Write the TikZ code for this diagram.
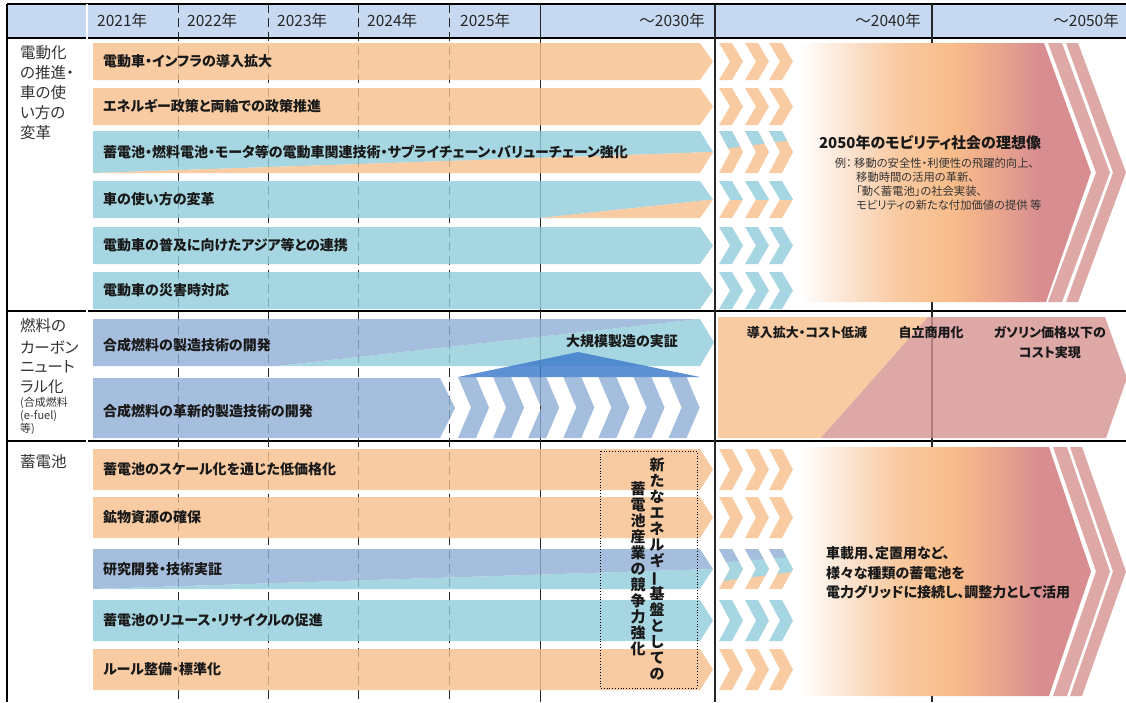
\documentclass[tikz,border=0pt]{standalone}
\usepackage{fontspec}
\usepackage{graphicx}
\setmainfont{Noto Sans CJK JP}[RawFeature=+palt]
% opaque colours (chevrons)
\definecolor{cO}{RGB}{249,203,162}
\definecolor{cT}{RGB}{166,214,225}
\definecolor{cS}{RGB}{166,190,222}
\definecolor{cR}{RGB}{221,168,166}
% base colours for 80% fills (give the same look on white)
\definecolor{bO}{RGB}{247,190,139}
\definecolor{bT}{RGB}{144,204,217}
\definecolor{bS}{RGB}{144,174,214}
\definecolor{bR}{RGB}{212,146,144}
\definecolor{cH}{RGB}{198,217,241}
\definecolor{cTri}{RGB}{66,126,204}
\definecolor{gA}{RGB}{251,226,206}
\definecolor{gB}{RGB}{249,201,160}
\definecolor{gC}{RGB}{248,189,138}
\definecolor{gD}{RGB}{236,168,140}
\definecolor{gE}{RGB}{216,142,144}
\pgfdeclarehorizontalshading{visiongrad}{100bp}{color(0bp)=(white); color(25bp)=(white); color(33.5bp)=(gA); color(42bp)=(gB); color(51bp)=(gC); color(58bp)=(gD); color(66bp)=(gE); color(100bp)=(gE)}
% bar: left x, body right x, top, bottom
\newcommand\barpath[4]{(#1,#3) -- (#2,#3) -- ({#2+13},{(#3+#4)/2}) -- (#2,#4) -- (#1,#4) -- cycle}
% chevron: x0, top, bottom
\newcommand\chevpath[3]{(#1,#2) -- ({#1+13},#2) -- ({#1+24},{(#2+#3)/2}) -- ({#1+13},#3) -- (#1,#3) -- ({#1+11},{(#2+#3)/2}) -- cycle}
\newcommand\threechev[3]{\foreach \cx in {719,745,769} {\fill[#3] \chevpath{\cx}{#1}{#2};}}
\begin{document}
\begin{tikzpicture}[x=1pt,y=-1pt,
  lbl/.style={font=\bfseries\fontsize{14}{16}\selectfont, anchor=west, inner sep=0pt, text=black!90},
  sidetxt/.style={font=\fontsize{15.5}{18}\selectfont, anchor=west, inner sep=0pt, text=black!80},
  sidesmall/.style={font=\fontsize{11}{13}\selectfont, anchor=west, inner sep=0pt, text=black!80},
  yr/.style={font=\fontsize{15.5}{17}\selectfont, inner sep=0pt, text=black!85},
  boxtxt/.style={font=\bfseries\fontsize{13}{15}\selectfont, inner sep=0pt, text=black!90},
  extxt/.style={font=\fontsize{11.3}{13}\selectfont, inner sep=0pt, text=black!80, anchor=west},
  vt/.style={font=\bfseries\fontsize{15}{16}\selectfont, align=center, inner sep=0pt, text=black!90},
  gline/.style={line width=0.9pt, black!85},
  dline/.style={gline, dash pattern=on 9pt off 5pt},
  bfill/.style={fill opacity=0.8},
]
\useasboundingbox (0,0) rectangle (1126,702);
% header
\fill[cH] (7,4) rectangle (1126,38);
% grid
\draw[line width=1.3pt] (7,4) -- (1126,4);
\draw[line width=1.3pt] (7,38) -- (1126,38);
\draw[line width=1.1pt] (7,311) -- (1126,311);
\draw[line width=1.1pt] (7,441) -- (1126,441);
\draw[line width=1.3pt] (7,4) -- (7,702);
\draw[double, double distance=1.4pt, line width=0.7pt] (87,4) -- (87,702);
\foreach \x in {178,268,358,449} \draw[dline] (\x,4) -- (\x,702);
\draw[gline] (540,4) -- (540,702);
\draw[gline, line width=1.1pt] (715,4) -- (715,702);
\draw[gline, line width=1.1pt] (932,4) -- (932,702);
% header labels
\node[yr, anchor=west] (y21) at (97,21) {2021年};
\node[yr, anchor=west] (y22) at (187,21) {2022年};
\node[yr, anchor=west] (y23) at (277,21) {2023年};
\node[yr, anchor=west] (y24) at (367,21) {2024年};
\node[yr, anchor=west] (y25) at (460,21) {2025年};
\node[yr, anchor=east] (y30) at (705,21) {～2030年};
\node[yr, anchor=east] (y40) at (921,21) {～2040年};
\node[yr, anchor=east] (y50) at (1119,21) {～2050年};
% left column
\node[sidetxt] (s1a) at (20,53) {電動化};
\node[sidetxt] (s1b) at (20,73) {の推進・};
\node[sidetxt] (s1c) at (20,93) {車の使};
\node[sidetxt] (s1d) at (20,113) {い方の};
\node[sidetxt] (s1e) at (20,133) {変革};
\node[sidetxt] (s2a) at (20,326) {燃料の};
\node[sidetxt] (s2b) at (20,347) {カーボン};
\node[sidetxt] (s2c) at (20,367) {ニュート};
\node[sidetxt] (s2d) at (20,387) {ラル化};
\node[sidesmall] (s2e) at (20,403) {(合成燃料};
\node[sidesmall] (s2f) at (20,416) {(e-fuel)};
\node[sidesmall] (s2g) at (20,429) {等)};
\node[sidetxt] (s3a) at (20,462) {蓄電池};
% ---------- section 1 bars ----------
\fill[bO,bfill] \barpath{93}{700}{43}{80};
\fill[bO,bfill] \barpath{93}{700}{88}{125};
\fill[bT,bfill] (93,131) -- (700,131) -- (713,152) -- (93,173) -- cycle;
\fill[bO,bfill] (93,173) -- (713,152) -- (700,173) -- cycle;
\fill[bT,bfill] (93,181) -- (700,181) -- (713,199.5) -- (540,218) -- (93,218) -- cycle;
\fill[bO,bfill] (540,218) -- (713,199.5) -- (700,218) -- cycle;
\fill[bT,bfill] \barpath{93}{700}{227}{264};
\fill[bT,bfill] \barpath{93}{700}{272}{309};
% section 1 chevrons
\threechev{43}{80}{cO}
\threechev{88}{125}{cO}
\foreach \cx in {719,745,769}{
  \begin{scope}
    \clip \chevpath{\cx}{131}{173};
    \fill[cO] (715,131) rectangle (800,173);
    \fill[cT] (715,131) -- (715,150) -- (800,139) -- (800,131) -- cycle;
  \end{scope}
  \begin{scope}
    \clip \chevpath{\cx}{181}{218};
    \fill[cO] (715,199.5) rectangle (800,218);
    \fill[cT] (715,181) rectangle (800,199.5);
  \end{scope}
}
\threechev{227}{264}{cT}
\threechev{272}{309}{cT}
% ---------- section 2 ----------
\fill[bS,bfill] (93,319) -- (700,319) -- (277,366) -- (93,366) -- cycle;
\fill[bT,bfill] (277,366) -- (700,319) -- (714,342.5) -- (700,366) -- cycle;
\fill[bS,bfill] (93,378) -- (440,378) -- (455,408) -- (440,438) -- (93,438) -- cycle;
\foreach \i in {0,...,6}{
  \pgfmathsetmacro\xo{458+35.1*\i}
  \fill[bS,bfill] (\xo,377) -- ({\xo+18},377) -- ({\xo+31},407.5) -- ({\xo+18},438) -- (\xo,438) -- ({\xo+13},407.5) -- cycle;
}
\fill[cTri, fill opacity=0.85] (458,377) -- (578,352) -- (700,377) -- cycle;
\fill[bO,bfill] (718,317) -- (928,317) -- (821,438) -- (718,438) -- cycle;
\fill[bR,bfill] (928,317) -- (1105,317) -- (1127,378) -- (1106,438) -- (821,438) -- cycle;
% ---------- section 3 bars ----------
\fill[bO,bfill] \barpath{93}{700}{449}{490};
\fill[bO,bfill] \barpath{93}{700}{497}{538};
\fill[bS,bfill] (93,549) -- (700,549) -- (713,569) -- (93,589) -- cycle;
\fill[bT,bfill] (93,589) -- (713,569) -- (700,589) -- cycle;
\fill[bT,bfill] \barpath{93}{700}{600}{641};
\fill[bO,bfill] \barpath{93}{700}{649}{690};
% section 3 chevrons
\threechev{449}{490}{cO}
\threechev{497}{538}{cO}
\foreach \cx in {719,745,769}{
  \begin{scope}
    \clip \chevpath{\cx}{549}{589};
    \fill[cO] (715,549) rectangle (800,589);
    \fill[cT] (715,549) -- (715,582) -- (800,571) -- (800,549) -- cycle;
    \fill[cS] (715,549) -- (715,563) -- (800,556) -- (800,549) -- cycle;
  \end{scope}
}
\threechev{600}{641}{cT}
\threechev{649}{690}{cO}
% ---------- big vision arrows ----------
\shade[shading=visiongrad] (800,43) -- (1044,43) -- (1091,172.5) -- (1046,302) -- (800,302) -- cycle;
\fill[cR] (1048,43) -- (1062,43) -- (1110,172.5) -- (1062,302) -- (1048,302) -- (1096,172.5) -- cycle;
\fill[cR] (1066,43) -- (1078,43) -- (1126,172.5) -- (1078,302) -- (1066,302) -- (1113,172.5) -- cycle;
\shade[shading=visiongrad] (800,447) -- (1049,447) -- (1091,571.5) -- (1049,696) -- (800,696) -- cycle;
\fill[cR] (1053,447) -- (1067,447) -- (1110,571.5) -- (1067,696) -- (1053,696) -- (1096,571.5) -- cycle;
\fill[cR] (1070,447) -- (1082,447) -- (1126,571.5) -- (1082,696) -- (1070,696) -- (1113,571.5) -- cycle;
% ---------- bar labels ----------
\node[lbl] (l1) at (103,61.5) {電動車・インフラの導入拡大};
\node[lbl] (l2) at (103,106.5) {エネルギー政策と両輪での政策推進};
\node[lbl] (l3) at (103,152) {蓄電池・燃料電池・モータ等の電動車関連技術・サプライチェーン・バリューチェーン強化};
\node[lbl] (l4) at (103,199.5) {車の使い方の変革};
\node[lbl] (l5) at (103,245.5) {電動車の普及に向けたアジア等との連携};
\node[lbl] (l6) at (103,290.5) {電動車の災害時対応};
\node[lbl] (f1) at (103,345) {合成燃料の製造技術の開発};
\node[lbl] (f2) at (103,411) {合成燃料の革新的製造技術の開発};
\node[lbl, anchor=center] (f3) at (622,341) {大規模製造の実証};
\node[lbl] (b1) at (103,469.5) {蓄電池のスケール化を通じた低価格化};
\node[lbl] (b2) at (103,517.5) {鉱物資源の確保};
\node[lbl] (b3) at (103,569) {研究開発・技術実証};
\node[lbl] (b4) at (103,620.5) {蓄電池のリユース・リサイクルの促進};
\node[lbl] (b5) at (103,669.5) {ルール整備・標準化};
% section 2 box texts
\node[boxtxt] (k1) at (807,333) {導入拡大・コスト低減};
\node[boxtxt] (k2) at (931,333) {自立商用化};
\node[boxtxt] (k3) at (1050,333) {ガソリン価格以下の};
\node[boxtxt] (k4) at (1050,353) {コスト実現};
% vision text section 1
\node[font=\bfseries\fontsize{15}{17}\selectfont, inner sep=0pt, text=black!90] (vis) at (930,143) {2050年のモビリティ社会の理想像};
\node[extxt, anchor=east] (rei) at (852,163.5) {例：};
\node[extxt] (e1) at (854,163.5) {移動の安全性・利便性の飛躍的向上、};
\node[extxt] (e2) at (856,177.5) {移動時間の活用の革新、};
\node[extxt] (e3) at (856,191.5) {「動く蓄電池」の社会実装、};
\node[extxt] (e4) at (856,205.5) {モビリティの新たな付加価値の提供 等};
% vision text section 3
\node[boxtxt, anchor=west, font=\bfseries\fontsize{14}{16}\selectfont] (g1) at (826,553) {車載用、定置用など、};
\node[boxtxt, anchor=west, font=\bfseries\fontsize{14}{16}\selectfont] (g2) at (826,573) {様々な種類の蓄電池を};
\node[boxtxt, anchor=west, font=\bfseries\fontsize{14}{16}\selectfont] (g3) at (826,592) {電力グリッドに接続し、調整力として活用};
% vertical text box
\draw[dotted, line width=0.8pt] (600,451) rectangle (697,688);
\node[vt] (vtR) at (657,569) {新\\た\\な\\エ\\ネ\\ル\\ギ\\\rotatebox[origin=c]{90}{ー}\\基\\盤\\と\\し\\て\\の};
\node[vt] (vtL) at (638,569) {蓄\\電\\池\\産\\業\\の\\競\\争\\力\\強\\化};
\end{tikzpicture}
\end{document}
